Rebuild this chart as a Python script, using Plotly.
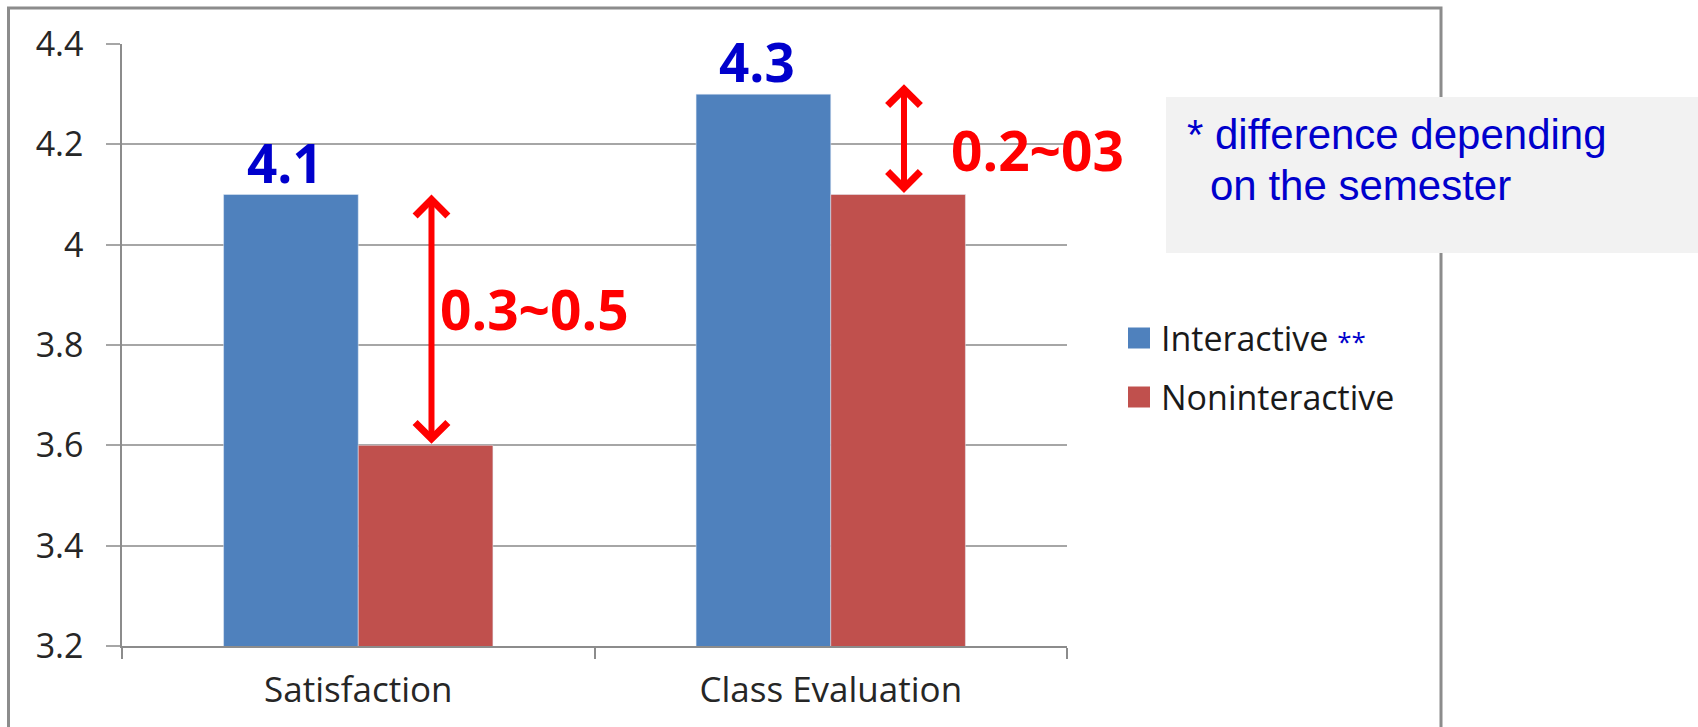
import plotly.graph_objects as go

# Survey averages per category
categories = ["Satisfaction", "Class Evaluation"]
interactive = [4.1, 4.3]
noninteractive = [3.6, 4.1]

# Semester-to-semester spread of the gap between the two groups
gap_labels = ["0.3~0.5", "0.2~03"]
gap_top = [4.1, 4.32]
gap_bottom = [3.6, 4.1]

# Value axis
y_ticks = [3.2, 3.4, 3.6, 3.8, 4.0, 4.2, 4.4]
y_tick_text = ["3.2", "3.4", "3.6", "3.8", "4", "4.2", "4.4"]

BLUE = "#4F81BD"
RED = "#C0504D"
LABEL_BLUE = "#0000CC"
AXIS_GRAY = "#8C8C8C"
GRID_GRAY = "#A6A6A6"
BARGAP = 0.43
BAR_W = (1 - BARGAP) / 2  # width of one bar in category units

fig = go.Figure()
fig.add_trace(go.Bar(name="Interactive", x=categories, y=interactive, marker_color=BLUE))
fig.add_trace(go.Bar(name="Noninteractive", x=categories, y=noninteractive, marker_color=RED))

annotations = []
# Value labels above the Interactive bars
for i, v in enumerate(interactive):
    annotations.append(dict(
        x=i - BAR_W / 2, y=v, xref="x", yref="y", text=f"{v}", showarrow=False,
        xanchor="center", yanchor="bottom", xshift=-6, yshift=-6,
        font=dict(family="Open Sans", size=53, color=LABEL_BLUE, weight="bold"),
    ))

# Double-headed arrows and range labels beside the Noninteractive bars
for i, (top, bot) in enumerate(zip(gap_top, gap_bottom)):
    annotations.append(dict(
        x=i + 0.155, y=top, ax=i + 0.155, ay=bot, xref="x", yref="y",
        axref="x", ayref="y", text="", showarrow=True,
        arrowhead=4, startarrowhead=4, arrowside="end+start",
        arrowwidth=6, arrowsize=1.05, startarrowsize=1.05,
        arrowcolor="#FF0000", standoff=0, startstandoff=0,
    ))
label_pos = [(0.169, 3.872), (1.250, 4.189)]
for lab, (lx, ly) in zip(gap_labels, label_pos):
    annotations.append(dict(
        x=lx, y=ly, xref="x", yref="y", text=lab, showarrow=False,
        xanchor="left", yanchor="middle",
        font=dict(family="Open Sans", size=55, color="#FF0000", weight="bold"),
    ))

# Pixel helpers for paper-anchored decorations (plot area 122..1067 x 44..646)
PL, PR, PT, PB = 122, 1067, 44, 646
def px(x):
    return (x - PL) / (PR - PL)
def py(y):
    return (PB - y) / (PB - PT)

# Note box text
annotations.append(dict(
    x=px(1185), y=py(134), xref="paper", yref="paper", text="* difference depending",
    showarrow=False, xanchor="left", yanchor="middle",
    font=dict(family="Liberation Sans", size=42, color=LABEL_BLUE),
))
annotations.append(dict(
    x=px(1208), y=py(185), xref="paper", yref="paper", text="on the semester",
    showarrow=False, xanchor="left", yanchor="middle",
    font=dict(family="Liberation Sans", size=42, color=LABEL_BLUE),
))

# Legend entries
legend_rows = [
    ("Interactive <span style='color:#0000CC;font-size:26px'>**</span>", BLUE, 338),
    ("Noninteractive", RED, 397),
]
shapes = [
    # chart frame
    dict(type="rect", xref="paper", yref="paper",
         x0=px(8.5), x1=px(1441), y0=py(780), y1=py(8),
         line=dict(color=AXIS_GRAY, width=3), fillcolor="rgba(0,0,0,0)", layer="above"),
    # note box
    dict(type="rect", xref="paper", yref="paper",
         x0=px(1166), x1=px(1720), y0=py(253), y1=py(97),
         line=dict(width=0), fillcolor="#F2F2F2", layer="above"),
]
for text, color, cy in legend_rows:
    shapes.append(dict(type="rect", xref="paper", yref="paper",
                       x0=px(1128), x1=px(1150), y0=py(cy + 10.5), y1=py(cy - 10.5),
                       line=dict(width=0), fillcolor=color))
    annotations.append(dict(
        x=px(1159), y=py(cy), xref="paper", yref="paper", text=text,
        showarrow=False, xanchor="left", yanchor="middle",
        font=dict(family="Open Sans", size=34, color="#1A1A1A"),
    ))

fig.update_layout(
    width=1698, height=727,
    margin=dict(l=PL, r=1698 - PR, t=PT, b=727 - PB, pad=0),
    paper_bgcolor="white", plot_bgcolor="white",
    barmode="group", bargap=BARGAP, bargroupgap=0,
    showlegend=False,
    annotations=annotations, shapes=shapes,
    font=dict(family="Open Sans", size=33, color="#262626"),
)
fig.update_xaxes(
    type="category", range=[-0.5, len(categories) - 0.5],
    showgrid=False, showline=True, linecolor=AXIS_GRAY, linewidth=1.5,
    ticks="outside", tickson="boundaries", ticklen=11, tickcolor=AXIS_GRAY, tickwidth=1.5,
    tickfont=dict(family="Open Sans", size=35, color="#262626"), ticklabelstandoff=12,
)
fig.update_yaxes(
    range=[3.2, 4.4], tickvals=y_ticks, ticktext=y_tick_text,
    showgrid=True, gridcolor=GRID_GRAY, gridwidth=1.5, zeroline=False,
    showline=True, linecolor=AXIS_GRAY, linewidth=1.5,
    ticks="outside", ticklen=14, tickcolor=GRID_GRAY, tickwidth=1.5,
    tickfont=dict(family="Open Sans", size=34, color="#262626"), ticklabelstandoff=16,
)

fig.write_html("out.html")
